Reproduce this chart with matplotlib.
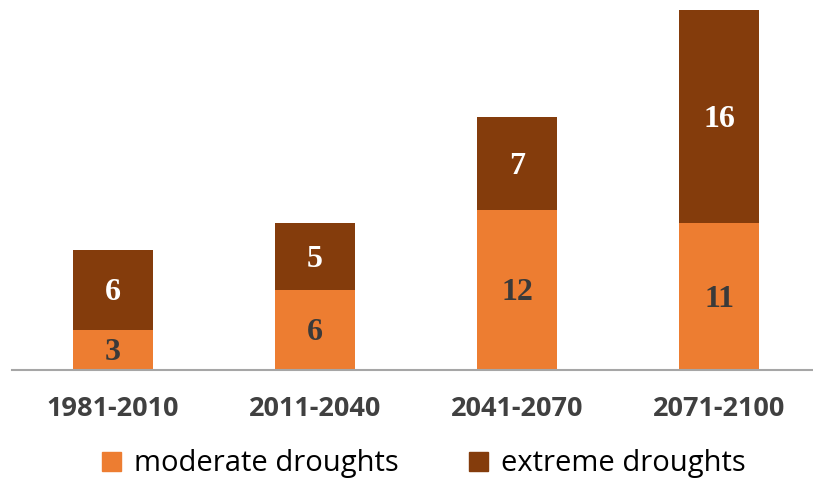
import numpy as np
import matplotlib.pyplot as plt
from matplotlib.patches import Patch

# Numero de sequias por periodo
periods = ["1981-2010", "2011-2040", "2041-2070", "2071-2100"]
moderate = [3, 6, 12, 11]
extreme = [6, 5, 7, 16]

c_mod = "#ED7D31"
c_ext = "#843C0C"

fig = plt.figure(figsize=(8.13, 4.78), dpi=100)
ax = fig.add_axes([12 / 813, 108 / 478, 801 / 813, 370 / 478])

x = np.arange(len(periods))
w = 0.396
ax.bar(x, moderate, w, color=c_mod)
ax.bar(x, extreme, w, bottom=moderate, color=c_ext)

# etiquetas dentro de cada segmento (un poco bajadas)
dy = 0.22
for i in range(len(periods)):
    ax.text(x[i], moderate[i] / 2 - dy, str(moderate[i]), ha="center", va="center",
            family="Liberation Serif", weight="bold", fontsize=23, color="#3a3a3a")
    ax.text(x[i], moderate[i] + extreme[i] / 2 - dy, str(extreme[i]), ha="center", va="center",
            family="Liberation Serif", weight="bold", fontsize=23, color="white")

ax.set_xlim(-0.5, 3.465)
ax.set_ylim(0, 370 / 13.33)
for s in ["top", "right", "left"]:
    ax.spines[s].set_visible(False)
ax.spines["bottom"].set_color("#a6a6a6")
ax.spines["bottom"].set_linewidth(1.5)
ax.set_yticks([])
ax.set_xticks(x)
ax.set_xticklabels(periods, family="Open Sans", weight="bold", fontsize=19.5, color="#404040")
ax.tick_params(axis="x", length=0, pad=19)

handles = [Patch(color=c_mod, label="moderate droughts"),
           Patch(color=c_ext, label="extreme droughts")]
fig.legend(handles=handles, loc="center", bbox_to_anchor=(0.5215, 1 - 464 / 478), ncol=2,
           frameon=False, handlelength=0.65, handleheight=0.65, handletextpad=0.45,
           columnspacing=2.4, prop={"family": "Open Sans", "size": 21})

fig.savefig("out.png", dpi=100)
